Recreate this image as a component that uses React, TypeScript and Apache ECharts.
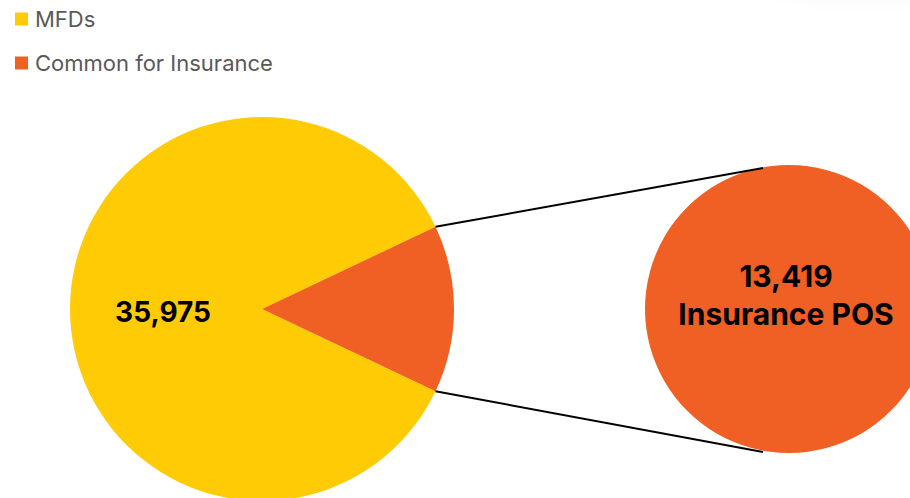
import React, { useEffect, useRef } from "react";
import * as echarts from "echarts";

const categories = ["MFDs", "Common for Insurance"];
const pieValues = [35975, 5900];
const detailLabel = "Insurance POS";
const detailValue = 13419;
const colors = ["#FFCB05", "#F05F24"];

export default function App() {
  const ref = useRef<HTMLDivElement>(null);
  useEffect(() => {
    if (!ref.current) return;
    const chart = echarts.init(ref.current, undefined, { renderer: "svg" });
    const total = pieValues.reduce((a, b) => a + b, 0);
    const half = ((pieValues[1] / total) * 360) / 2;
    const pc = [262, 309];
    const pr = 192;
    const dc = [789, 309];
    const dr = 144;
    const rad = (half * Math.PI) / 180;
    const p1 = [pc[0] + pr * Math.cos(rad), pc[1] - pr * Math.sin(rad)];
    const p2 = [pc[0] + pr * Math.cos(rad), pc[1] + pr * Math.sin(rad)];
    const q1 = [dc[0] - 26, dc[1] - 141];
    const q2 = [dc[0] - 26, dc[1] + 143];
    const fmt = (v: number) => v.toLocaleString("en-US");
    chart.setOption({
      animation: false,
      backgroundColor: "#ffffff",
      legend: {
        data: categories,
        orient: "vertical",
        left: 10,
        top: 3,
        icon: "rect",
        itemWidth: 13,
        itemHeight: 13,
        itemGap: 22,
        textStyle: {
          fontSize: 22,
          color: "#595959",
          fontFamily: "Inter",
          padding: [0, 0, 0, 2],
        },
      },
      graphic: [
        {
          type: "ellipse",
          shape: { cx: 860, cy: -40, rx: 140, ry: 55 },
          style: {
            fill: {
              type: "radial",
              x: 0.5,
              y: 0.5,
              r: 0.5,
              colorStops: [
                { offset: 0, color: "rgba(0,0,0,0.05)" },
                { offset: 1, color: "rgba(0,0,0,0)" },
              ],
            },
          },
          silent: true,
        },
        {
          type: "line",
          shape: { x1: p1[0], y1: p1[1], x2: q1[0], y2: q1[1] },
          style: { stroke: "#000", lineWidth: 2 },
          z: 10,
        },
        {
          type: "line",
          shape: { x1: p2[0], y1: p2[1], x2: q2[0], y2: q2[1] },
          style: { stroke: "#000", lineWidth: 2 },
          z: 10,
        },
      ],
      series: [
        {
          type: "pie",
          center: pc,
          radius: pr,
          startAngle: 360 - half,
          clockwise: true,
          silent: true,
          labelLine: { show: false },
          data: categories.map((name, i) => ({
            name,
            value: pieValues[i],
            itemStyle: { color: colors[i] },
            label: {
              show: i === 0,
              position: "inside",
              formatter: (p: any) => fmt(p.value),
              fontSize: 28,
              fontWeight: "bold",
              color: "#000",
              fontFamily: "Inter",
              offset: [0, 3],
            },
          })),
        },
        {
          type: "pie",
          center: dc,
          radius: dr,
          silent: true,
          labelLine: { show: false },
          data: [
            {
              name: detailLabel,
              value: detailValue,
              itemStyle: { color: colors[1] },
              label: {
                show: true,
                position: "center",
                formatter: (p: any) => fmt(p.value) + "\n" + p.name,
                fontSize: 30,
                lineHeight: 38,
                fontWeight: "bold",
                color: "#000",
                fontFamily: "Inter",
                offset: [-3, -14],
              },
            },
          ],
        },
      ],
    });
    return () => chart.dispose();
  }, []);
  return (
    <div
      ref={ref}
      style={{ position: "fixed", left: 0, top: 0, width: 910, height: 498 }}
    />
  );
}
